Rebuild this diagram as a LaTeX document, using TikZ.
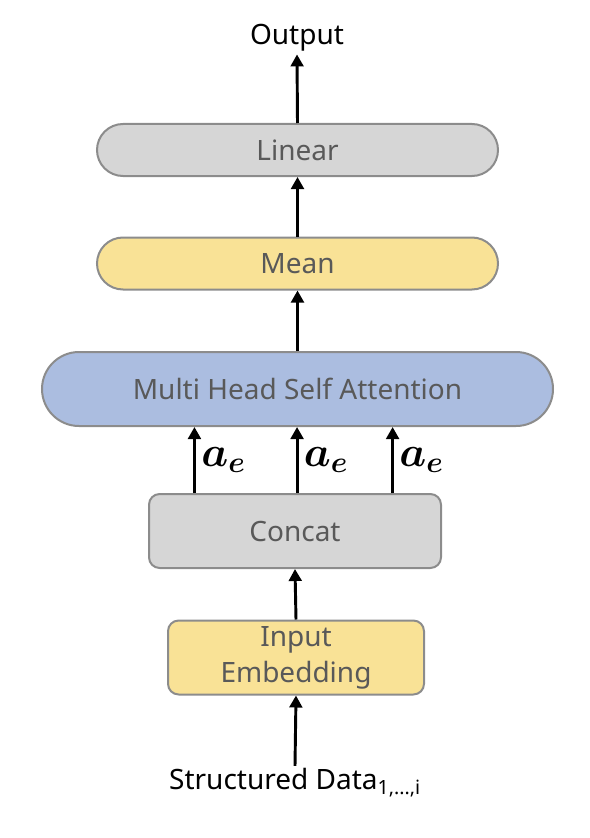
\documentclass[tikz,border=0pt]{standalone}
\usepackage{fix-cm}
\usepackage{bm}
\usepackage{fontspec}
\setmainfont{Noto Sans}
\usetikzlibrary{arrows.meta,positioning,calc}

\definecolor{boxgray}{HTML}{D6D6D6}
\definecolor{boxyellow}{HTML}{F9E296}
\definecolor{boxblue}{HTML}{ABBDE0}
\definecolor{edgegray}{HTML}{8C8C8C}
\definecolor{labelgray}{HTML}{595959}

\begin{document}
\begin{tikzpicture}[
    x=0.75pt, y=-0.75pt,
    block/.style={rectangle, draw=edgegray, line width=1.5pt, text=labelgray, text centered, font=\fontsize{21}{25}\selectfont},
    pill/.style={block, minimum width=300.75pt, minimum height=39pt, rounded corners=19.5pt},
    card/.style={block, rounded corners=8pt, minimum height=55.5pt},
    plain/.style={font=\fontsize{21}{25}\selectfont, inner sep=2pt},
    arr/.style={-{Triangle[width=9.5pt,length=9pt]}, line width=2.2pt}
]
\useasboundingbox (0,0) rectangle (589,838);

% stack of blocks, bottom to top
\node[plain] (data) at (295,783) {Structured Data\textsubscript{1,...,i}};
\node[card, fill=boxyellow, minimum width=192pt, align=center, font=\fontsize{21}{27}\selectfont] (embed) at (296,657.5) {Input\\Embedding};
\node[card, fill=boxgray, minimum width=219pt] (concat) at (295,531) {Concat};
\node[block, fill=boxblue, minimum width=383.25pt, minimum height=55.5pt, rounded corners=27.75pt] (mhsa) at (297.5,389) {Multi Head Self Attention};
\node[pill, fill=boxyellow] (mean) at (297.5,263.5) {Mean};
\node[pill, fill=boxgray] (linear) at (297.5,150) {Linear};
\node[plain] (output) at (297,38) {Output};

% connectors
\draw[arr] (data.north) -- (embed.south);
\draw[arr] (embed.north) -- (concat.south);
\foreach \f in {0.158,0.507,0.832}
    \draw[arr] ($(concat.north west)!\f!(concat.north east)$) coordinate (ae) -- (ae |- mhsa.south)
        node[midway, right, inner sep=4pt, font=\fontsize{32}{36}\selectfont] {$\bm{a_e}$};
\draw[arr] (mhsa.north) -- (mean.south);
\draw[arr] (mean.north) -- (linear.south);
\draw[arr] (linear.north) -- (output.south);
\end{tikzpicture}
\end{document}
